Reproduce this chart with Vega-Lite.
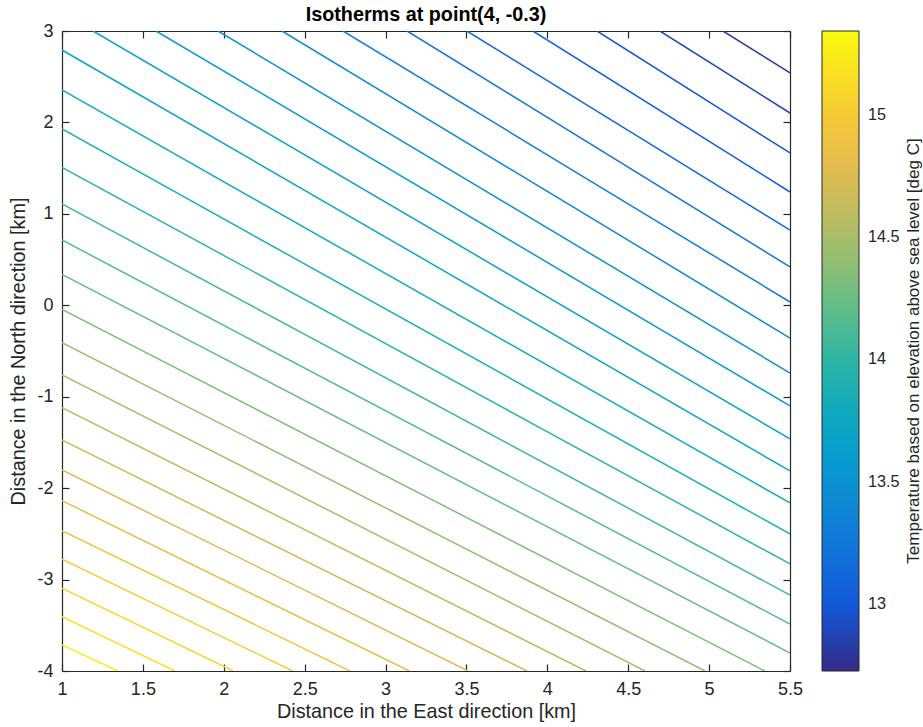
{
  "$schema": "https://vega.github.io/schema/vega-lite/v6.json",
  "width": 728,
  "height": 640,
  "autosize": {"type": "none"},
  "padding": {"left": 62, "top": 31, "right": 133, "bottom": 56},
  "background": "white",
  "title": {"text": "Isotherms at point(4, -0.3)", "fontSize": 19.8, "fontWeight": "bold", "color": "#000000", "offset": -3, "anchor": "middle"},
  "data": {"values": [
    {"line": 1, "T": 12.81, "x": 5.086, "y": 3}, {"line": 1, "T": 12.81, "x": 5.5, "y": 2.541},
    {"line": 2, "T": 12.894, "x": 4.696, "y": 3}, {"line": 2, "T": 12.894, "x": 5.5, "y": 2.103},
    {"line": 3, "T": 12.979, "x": 4.307, "y": 3}, {"line": 3, "T": 12.979, "x": 5.5, "y": 1.666},
    {"line": 4, "T": 13.063, "x": 3.911, "y": 3}, {"line": 4, "T": 13.063, "x": 5.5, "y": 1.239},
    {"line": 5, "T": 13.148, "x": 3.503, "y": 3}, {"line": 5, "T": 13.148, "x": 5.5, "y": 0.823},
    {"line": 6, "T": 13.232, "x": 3.133, "y": 3}, {"line": 6, "T": 13.232, "x": 5.5, "y": 0.419},
    {"line": 7, "T": 13.317, "x": 2.737, "y": 3}, {"line": 7, "T": 13.317, "x": 5.5, "y": 0.036},
    {"line": 8, "T": 13.401, "x": 2.36, "y": 3}, {"line": 8, "T": 13.401, "x": 5.5, "y": -0.358},
    {"line": 9, "T": 13.486, "x": 1.964, "y": 3}, {"line": 9, "T": 13.486, "x": 5.5, "y": -0.741},
    {"line": 10, "T": 13.57, "x": 1.581, "y": 3}, {"line": 10, "T": 13.57, "x": 5.5, "y": -1.101},
    {"line": 11, "T": 13.655, "x": 1.192, "y": 3}, {"line": 11, "T": 13.655, "x": 5.5, "y": -1.462},
    {"line": 12, "T": 13.739, "x": 1, "y": 2.792}, {"line": 12, "T": 13.739, "x": 5.5, "y": -1.812},
    {"line": 13, "T": 13.824, "x": 1, "y": 2.355}, {"line": 13, "T": 13.824, "x": 5.5, "y": -2.162},
    {"line": 14, "T": 13.908, "x": 1, "y": 1.928}, {"line": 14, "T": 13.908, "x": 5.5, "y": -2.501},
    {"line": 15, "T": 13.993, "x": 1, "y": 1.509}, {"line": 15, "T": 13.993, "x": 5.5, "y": -2.829},
    {"line": 16, "T": 14.077, "x": 1, "y": 1.108}, {"line": 16, "T": 14.077, "x": 5.5, "y": -3.169},
    {"line": 17, "T": 14.162, "x": 1, "y": 0.714}, {"line": 17, "T": 14.162, "x": 5.5, "y": -3.486},
    {"line": 18, "T": 14.246, "x": 1, "y": 0.339}, {"line": 18, "T": 14.246, "x": 5.5, "y": -3.803},
    {"line": 19, "T": 14.331, "x": 1, "y": -0.044}, {"line": 19, "T": 14.331, "x": 5.345, "y": -4},
    {"line": 20, "T": 14.415, "x": 1, "y": -0.409}, {"line": 20, "T": 14.415, "x": 4.975, "y": -4},
    {"line": 21, "T": 14.5, "x": 1, "y": -0.762}, {"line": 21, "T": 14.5, "x": 4.604, "y": -4},
    {"line": 22, "T": 14.584, "x": 1, "y": -1.12}, {"line": 22, "T": 14.584, "x": 4.239, "y": -4},
    {"line": 23, "T": 14.669, "x": 1, "y": -1.473}, {"line": 23, "T": 14.669, "x": 3.874, "y": -4},
    {"line": 24, "T": 14.753, "x": 1, "y": -1.801}, {"line": 24, "T": 14.753, "x": 3.51, "y": -4},
    {"line": 25, "T": 14.838, "x": 1, "y": -2.137}, {"line": 25, "T": 14.838, "x": 3.147, "y": -4},
    {"line": 26, "T": 14.922, "x": 1, "y": -2.465}, {"line": 26, "T": 14.922, "x": 2.78, "y": -4},
    {"line": 27, "T": 15.007, "x": 1, "y": -2.778}, {"line": 27, "T": 15.007, "x": 2.426, "y": -4},
    {"line": 28, "T": 15.091, "x": 1, "y": -3.095}, {"line": 28, "T": 15.091, "x": 2.059, "y": -4},
    {"line": 29, "T": 15.176, "x": 1, "y": -3.406}, {"line": 29, "T": 15.176, "x": 1.698, "y": -4},
    {"line": 30, "T": 15.26, "x": 1, "y": -3.716}, {"line": 30, "T": 15.26, "x": 1.344, "y": -4}
  ]},
  "layer": [
    {
      "mark": {"type": "line", "strokeWidth": 1.5, "clip": true},
      "encoding": {
        "x": {"field": "x", "type": "quantitative",
          "scale": {"domain": [1, 5.5], "nice": false, "zero": false},
          "axis": {"orient": "bottom", "values": [1, 1.5, 2, 2.5, 3, 3.5, 4, 4.5, 5, 5.5], "tickSize": -7, "labelPadding": 16, "labelExpr": "'' + datum.value", "labelFlush": false, "labelOverlap": false, "title": "Distance in the East direction [km]", "titlePadding": 3}},
        "y": {"field": "y", "type": "quantitative",
          "scale": {"domain": [-4, 3], "nice": false, "zero": false},
          "axis": {"orient": "left", "values": [-4, -3, -2, -1, 0, 1, 2, 3], "tickSize": -7, "labelPadding": 16, "labelExpr": "'' + datum.value", "labelFlush": false, "labelOverlap": false, "title": "Distance in the North direction [km]", "titlePadding": 8}},
        "color": {"field": "T", "type": "quantitative",
          "scale": {"domain": [12.725, 15.344], "interpolate": "rgb",
            "range": ["#352a87", "#0f5cdd", "#127dd8", "#079ccf", "#15b0b4", "#59bd8c", "#a5be6b", "#e1b952", "#fcce2e", "#f9fb0e"]},
          "legend": {"values": [13, 13.5, 14, 14.5, 15], "title": "Temperature based on elevation above sea level [deg C]", "orient": "right", "offset": 31, "padding": 0, "direction": "vertical", "gradientLength": 640, "gradientThickness": 37, "gradientStrokeColor": "#262626", "gradientStrokeWidth": 1, "labelFontSize": 16.2, "labelColor": "#262626", "labelOffset": 9, "labelExpr": "'' + datum.value", "labelOverlap": false, "titleOrient": "right", "titleAnchor": "middle", "titleBaseline": "top", "titleFontSize": 17, "titleFontWeight": "normal", "titleColor": "#262626", "titlePadding": 6, "titleLimit": 800,
            "encoding": {"title": {"angle": {"value": -90}}}}},
        "detail": {"field": "line", "type": "nominal"},
        "order": {"field": "x", "type": "quantitative"}
      }
    },
    {
      "mark": {"type": "point", "opacity": 0},
      "encoding": {
        "x": {"field": "x", "type": "quantitative", "axis": {"orient": "top", "values": [1, 1.5, 2, 2.5, 3, 3.5, 4, 4.5, 5, 5.5], "tickSize": -7, "labels": false, "title": null}},
        "y": {"field": "y", "type": "quantitative", "axis": {"orient": "right", "values": [-4, -3, -2, -1, 0, 1, 2, 3], "tickSize": -7, "labels": false, "title": null}}
      }
    }
  ],
  "resolve": {"axis": {"x": "independent", "y": "independent"}},
  "config": {
    "font": "Liberation Sans",
    "view": {"stroke": null},
    "axis": {"grid": false, "domainColor": "#262626", "domainWidth": 1.2, "tickColor": "#262626", "tickWidth": 1.2, "labelColor": "#262626", "labelFontSize": 18, "titleColor": "#262626", "titleFontSize": 19.8, "titleFontWeight": "normal"}
  }
}
